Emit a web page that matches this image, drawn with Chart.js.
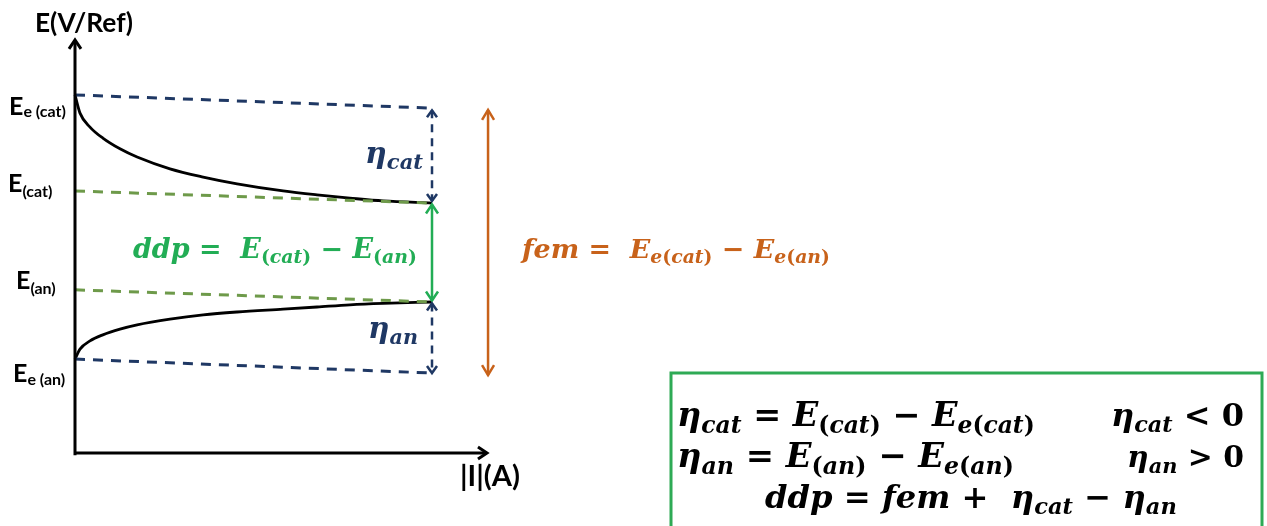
<!DOCTYPE html>
<html>
<head>
<meta charset="utf-8">
<script src="https://cdn.jsdelivr.net/npm/chart.js@4.4.1/dist/chart.umd.min.js"></script>
<style>
  html, body { margin: 0; padding: 0; background: #fff; }
  canvas { display: block; }
</style>
</head>
<body>
<canvas id="diagram" width="1267" height="526"></canvas>
<script>
// values (arbitrary units, origin = axes corner)
const currentX  = [0, 0.14, 0.42, 0.78, 1.26, 1.74, 2.66, 3.59, 4.54, 5.83, 6.78, 7.70, 8.63, 10];
const cathodicE = [10.03, 9.52, 9.13, 8.82, 8.52, 8.29, 7.96, 7.73, 7.54, 7.34, 7.23, 7.14, 7.06, 7.00];
const anodicE   = [2.63, 2.91, 3.14, 3.31, 3.47, 3.59, 3.75, 3.87, 3.95, 4.03, 4.09, 4.15, 4.19, 4.23];

// the four potential levels (dashed lines), value at |I| = 0 and at |I| = 10
const levelNames = ["E_{e (cat)}", "E_{(cat)}", "E_{(an)}", "E_{e (an)}"];
const levelStart = [10.03, 7.34, 4.57, 2.63];
const levelEnd   = [9.66, 7.00, 4.23, 2.24];
const levelColor = ["#1f3864", "#6e9a4a", "#6e9a4a", "#1f3864"];

const iEnd = 10;              // where the curves stop
const femX = 11.57;           // fem arrow
const femRange = [9.61, 2.18];
const axisTop = 11.57, axisRight = 11.54;

const NAVY = "#1f3864", GREEN = "#22ad55", ORANGE = "#c8621a";

// canvas px per unit, and where the origin sits
const UNIT = 35.7, OX = 75, OY = 453, W = 1267, H = 526;

const line = (pts, color, width, extra) => Object.assign({
  data: pts, showLine: true, borderColor: color, borderWidth: width,
  pointRadius: 0, fill: false, tension: 0
}, extra || {});

const datasets = [];
// axes
datasets.push(line([{x: 0, y: -0.06}, {x: 0, y: axisTop}], "#000", 3, {heads: "end", head: [9, 6]}));
datasets.push(line([{x: 0, y: 0}, {x: axisRight, y: 0}], "#000", 3, {heads: "end", head: [9, 6]}));
// dashed levels
levelStart.forEach((v, i) => {
  datasets.push(line([{x: 0, y: v}, {x: iEnd, y: levelEnd[i]}], levelColor[i], 3, {borderDash: [10, 8]}));
});
// polarisation curves
datasets.push(line(currentX.map((x, i) => ({x, y: cathodicE[i]})), "#000", 2.8, {cubicInterpolationMode: "monotone"}));
datasets.push(line(currentX.map((x, i) => ({x, y: anodicE[i]})), "#000", 2.8, {cubicInterpolationMode: "monotone"}));
// overpotential / ddp / fem arrows
datasets.push(line([{x: iEnd, y: levelEnd[0] - 0.06}, {x: iEnd, y: levelEnd[1] + 0.06}], NAVY, 2.5, {borderDash: [8, 6], heads: "both", head: [7, 5]}));
datasets.push(line([{x: iEnd, y: levelEnd[1] - 0.04}, {x: iEnd, y: levelEnd[2] + 0.04}], GREEN, 2.5, {heads: "both", head: [9, 6]}));
datasets.push(line([{x: iEnd, y: levelEnd[2] - 0.04}, {x: iEnd, y: levelEnd[3]}], NAVY, 2.5, {borderDash: [8, 6], heads: "both", head: [7, 5]}));
datasets.push(line([{x: femX, y: femRange[0]}, {x: femX, y: femRange[1]}], ORANGE, 2.5, {heads: "both", head: [10, 6]}));

// split "a_{b}" strings into styled runs
function runs(str, italic) {
  const out = [];
  let sub = false;
  for (let i = 0; i < str.length; i++) {
    if (str[i] === "_" && str[i + 1] === "{") { sub = true; i++; continue; }
    if (str[i] === "}") { sub = false; continue; }
    const ch = str[i];
    const it = italic && /[A-Za-z\u03b7]/.test(ch);
    const last = out[out.length - 1];
    if (last && last.sub === sub && last.it === it) last.t += ch;
    else out.push({t: ch, sub, it});
  }
  return out;
}

function drawRich(ctx, a) {
  const family = a.family, subK = a.subK || 0.7, drop = a.drop || 0.2;
  const fontOf = (r, s) => (r.it ? "italic " : "") + "bold " + (r.sub ? s * subK : s) + "px " + family;
  const rs = runs(a.text, a.italic);
  let size = a.size;
  const measure = s => rs.reduce((w, r) => { ctx.font = fontOf(r, s); return w + ctx.measureText(r.t).width; }, 0);
  if (a.width) size = size * a.width / measure(size);
  let x = a.x;
  ctx.fillStyle = a.color;
  ctx.textBaseline = "alphabetic";
  ctx.textAlign = "left";
  rs.forEach(r => {
    ctx.font = fontOf(r, size);
    ctx.fillText(r.t, x, a.y + (r.sub ? size * drop : 0));
    x += ctx.measureText(r.t).width;
  });
}

const SANS = "Lato, 'Open Sans', sans-serif";
const MATH = "'DejaVu Serif', serif";

const labels = [
  {text: "E(V/Ref)", x: 35, y: 32, size: 24, family: SANS, color: "#000", width: 98},
  {text: "|I|(A)", x: 460, y: 486, size: 22, family: SANS, color: "#000", width: 60},
  {text: levelNames[0], x: 9, y: 115, size: 25, family: SANS, color: "#000", subK: 0.64, drop: 0.08},
  {text: levelNames[1], x: 8, y: 192, size: 25, family: SANS, color: "#000", subK: 0.64, drop: 0.2},
  {text: levelNames[2], x: 16, y: 289, size: 25, family: SANS, color: "#000", subK: 0.64, drop: 0.2},
  {text: levelNames[3], x: 13, y: 382, size: 25, family: SANS, color: "#000", subK: 0.64, drop: 0.12},
  {text: "\u03b7_{cat}", x: 365, y: 163, size: 28, family: MATH, italic: true, color: NAVY, width: 58},
  {text: "\u03b7_{an}", x: 368, y: 338, size: 28, family: MATH, italic: true, color: NAVY, width: 50},
  {text: "ddp =  E_{(cat)} \u2212 E_{(an)}", x: 133, y: 258, size: 22, family: MATH, italic: true, color: GREEN, width: 284},
  {text: "fem =  E_{e(cat)} \u2212 E_{e(an)}", x: 522, y: 258, size: 24, family: MATH, italic: true, color: ORANGE, width: 308},
  {text: "\u03b7_{cat} = E_{(cat)} \u2212 E_{e(cat)}", x: 677, y: 426, size: 30, family: MATH, italic: true, color: "#000", width: 358},
  {text: "\u03b7_{cat} < 0", x: 1111, y: 426, size: 30, family: MATH, italic: true, color: "#000", width: 133},
  {text: "\u03b7_{an} = E_{(an)} \u2212 E_{e(an)}", x: 677, y: 467, size: 30, family: MATH, italic: true, color: "#000", width: 337},
  {text: "\u03b7_{an} > 0", x: 1127, y: 467, size: 30, family: MATH, italic: true, color: "#000", width: 117},
  {text: "ddp = fem +  \u03b7_{cat} \u2212 \u03b7_{an}", x: 765, y: 508, size: 30, family: MATH, italic: true, color: "#000", width: 412}
];

function chevron(ctx, tx, ty, fx, fy, len, half) {
  const a = Math.atan2(ty - fy, tx - fx);
  const bx = tx - len * Math.cos(a), by = ty - len * Math.sin(a);
  const px = -Math.sin(a) * half, py = Math.cos(a) * half;
  ctx.beginPath();
  ctx.moveTo(bx + px, by + py);
  ctx.lineTo(tx, ty);
  ctx.lineTo(bx - px, by - py);
  ctx.stroke();
}

const arrowHeads = {
  id: "arrowHeads",
  afterDatasetsDraw(chart) {
    const ctx = chart.ctx;
    chart.data.datasets.forEach((ds, i) => {
      if (!ds.heads) return;
      const pts = chart.getDatasetMeta(i).data;
      const p0 = pts[0], p1 = pts[1], n = pts.length;
      ctx.save();
      ctx.setLineDash([]);
      ctx.strokeStyle = ds.borderColor;
      ctx.lineWidth = ds.borderWidth;
      ctx.lineJoin = "miter";
      chevron(ctx, pts[n - 1].x, pts[n - 1].y, pts[n - 2].x, pts[n - 2].y, ds.head[0], ds.head[1]);
      if (ds.heads === "both") chevron(ctx, p0.x, p0.y, p1.x, p1.y, ds.head[0], ds.head[1]);
      ctx.restore();
    });
  }
};

const annotations = {
  id: "annotations",
  afterDraw(chart) {
    const ctx = chart.ctx;
    ctx.save();
    // formula box
    ctx.strokeStyle = "#2eaa55";
    ctx.lineWidth = 3;
    ctx.strokeRect(671, 373, 591, 170);
    labels.forEach(l => drawRich(ctx, l));
    ctx.restore();
  }
};

new Chart(document.getElementById("diagram"), {
  type: "scatter",
  data: { datasets: datasets },
  options: {
    responsive: false,
    animation: false,
    devicePixelRatio: 1,
    events: [],
    layout: { padding: 0 },
    plugins: { legend: { display: false }, tooltip: { enabled: false } },
    scales: {
      x: { type: "linear", display: false, min: -OX / UNIT, max: (W - OX) / UNIT },
      y: { type: "linear", display: false, min: -(H - OY) / UNIT, max: OY / UNIT }
    }
  },
  plugins: [arrowHeads, annotations]
});
</script>
</body>
</html>
